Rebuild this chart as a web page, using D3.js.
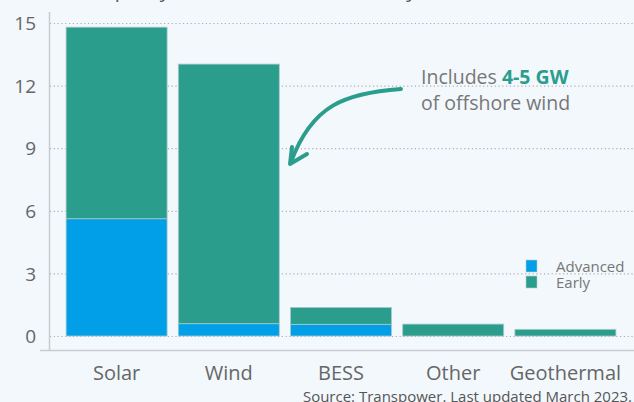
<!DOCTYPE html>
<html>
<head>
<meta charset="utf-8">
<script src="https://cdn.jsdelivr.net/npm/d3@7"></script>
<style>
  body { margin: 0; background: #f3f8fc; }
  svg { display: block; font-family: "Open Sans", "Noto Sans", sans-serif; }
</style>
</head>
<body>
<div id="chart"></div>
<script>
// data
var categories = ["Solar", "Wind", "BESS", "Other", "Geothermal"];
var advanced = [5.62, 0.59, 0.56, 0, 0];
var early = [9.18, 12.44, 0.81, 0.57, 0.32];
var yTicks = [0, 3, 6, 9, 12, 15];
var seriesNames = ["Advanced", "Early"];
var seriesColors = ["#009fe8", "#2a9d8c"];

(function () {
    var width = 634, height = 402;

    var svg = d3.select('#chart')
                .append('svg')
                .attr('width', width)
                .attr('height', height);

    svg.append('rect')
        .attr('width', width)
        .attr('height', height)
        .style('fill', '#f3f8fc');

    var xScale = d3.scaleBand()
                    .domain(categories)
                    .range([60.5, 621.5])
                    .paddingInner(0.1)
                    .paddingOuter(0.05);

    var yScale = d3.scaleLinear()
                    .domain([0, 15])
                    .range([336, 23]);

    // title, cut off above the picture (only descenders show)
    svg.append('text')
        .attr('x', 91)
        .attr('y', -3)
        .text('Capacity of all the resource field by')
        .style('font-size', '20px')
        .style('fill', '#555');

    // dotted gridlines
    svg.append('g')
        .selectAll('line')
        .data(yTicks)
        .enter()
        .append('line')
        .attr('x1', 50)
        .attr('x2', width)
        .attr('y1', function(d) { return yScale(d) + 0.5; })
        .attr('y2', function(d) { return yScale(d) + 0.5; })
        .style('stroke', '#aab0b8')
        .style('stroke-width', 1.2)
        .style('stroke-dasharray', '1.2,2.6');

    // axis frame
    svg.append('line')
        .attr('x1', 49.5).attr('x2', 49.5)
        .attr('y1', 12).attr('y2', 351)
        .style('stroke', '#c8ccd0').style('stroke-width', 1.5);
    svg.append('line')
        .attr('x1', 40).attr('x2', width)
        .attr('y1', 350.5).attr('y2', 350.5)
        .style('stroke', '#c8ccd0').style('stroke-width', 1.5);

    // stacked data
    var table = categories.map(function(c, i) {
        return { cat: c, Advanced: advanced[i], Early: early[i] };
    });
    var stacked = d3.stack().keys(seriesNames)(table);

    svg.append('g')
        .selectAll('g')
        .data(stacked)
        .enter()
        .append('g')
        .style('fill', function(d, i) { return seriesColors[i]; })
        .selectAll('rect')
        .data(function(d) { return d.filter(function(p) { return p[1] > p[0]; }); })
        .enter()
        .append('rect')
        .attr('x', function(d) { return xScale(d.data.cat); })
        .attr('y', function(d) { return yScale(d[1]); })
        .attr('width', xScale.bandwidth())
        .attr('height', function(d) { return yScale(d[0]) - yScale(d[1]); })
        .style('stroke', '#a9c9c9')
        .style('stroke-width', 0.8);

    // y axis labels
    svg.append('g')
        .attr('transform', 'translate(36,0)')
        .call(d3.axisLeft(yScale).tickValues(yTicks).tickSize(0).tickPadding(0))
        .call(function(g) { g.select('.domain').remove(); })
        .selectAll('text')
        .style('font-family', '"Open Sans", sans-serif')
        .style('font-size', '19px')
        .style('fill', '#666')
        .attr('dy', '0.35em');

    // x axis labels
    svg.append('g')
        .attr('transform', 'translate(0,366)')
        .call(d3.axisBottom(xScale).tickSize(0).tickPadding(0))
        .call(function(g) { g.select('.domain').remove(); })
        .selectAll('text')
        .style('font-family', '"Open Sans", sans-serif')
        .style('font-size', '20px')
        .style('fill', '#666');

    // legend
    var legend = svg.append('g');
    seriesNames.forEach(function(name, i) {
        legend.append('rect')
            .attr('x', 526)
            .attr('y', 260 + i * 16)
            .attr('width', 11)
            .attr('height', 12)
            .style('fill', seriesColors[i])
            .style('stroke', '#b8cccc')
            .style('stroke-width', 0.6);
        legend.append('text')
            .attr('x', 556)
            .attr('y', 272 + i * 16)
            .text(name)
            .style('font-size', '15px')
            .style('fill', '#777');
    });

    // annotation
    var note = svg.append('text')
        .attr('x', 421)
        .attr('y', 84)
        .style('font-size', '19.5px')
        .style('fill', '#777');
    note.append('tspan').text('Includes ');
    note.append('tspan').text('4-5 GW').style('font-weight', 'bold').style('fill', '#2a9d8c');
    svg.append('text')
        .attr('x', 421)
        .attr('y', 110)
        .text('of offshore wind')
        .style('font-size', '19.5px')
        .style('fill', '#777');

    svg.append('path')
        .attr('d', 'M401,89 C345,93 312,105 291,162')
        .style('fill', 'none')
        .style('stroke', '#2a9d8c')
        .style('stroke-width', 4)
        .style('stroke-linecap', 'round');
    svg.append('path')
        .attr('d', 'M292,147 L290,164 L307,154')
        .style('fill', 'none')
        .style('stroke', '#2a9d8c')
        .style('stroke-width', 4)
        .style('stroke-linecap', 'round')
        .style('stroke-linejoin', 'round');

    // source
    svg.append('text')
        .attr('x', 632)
        .attr('y', 402)
        .attr('text-anchor', 'end')
        .text('Source: Transpower. Last updated March 2023.')
        .style('font-size', '15px')
        .style('fill', '#555');
})();
</script>
</body>
</html>
